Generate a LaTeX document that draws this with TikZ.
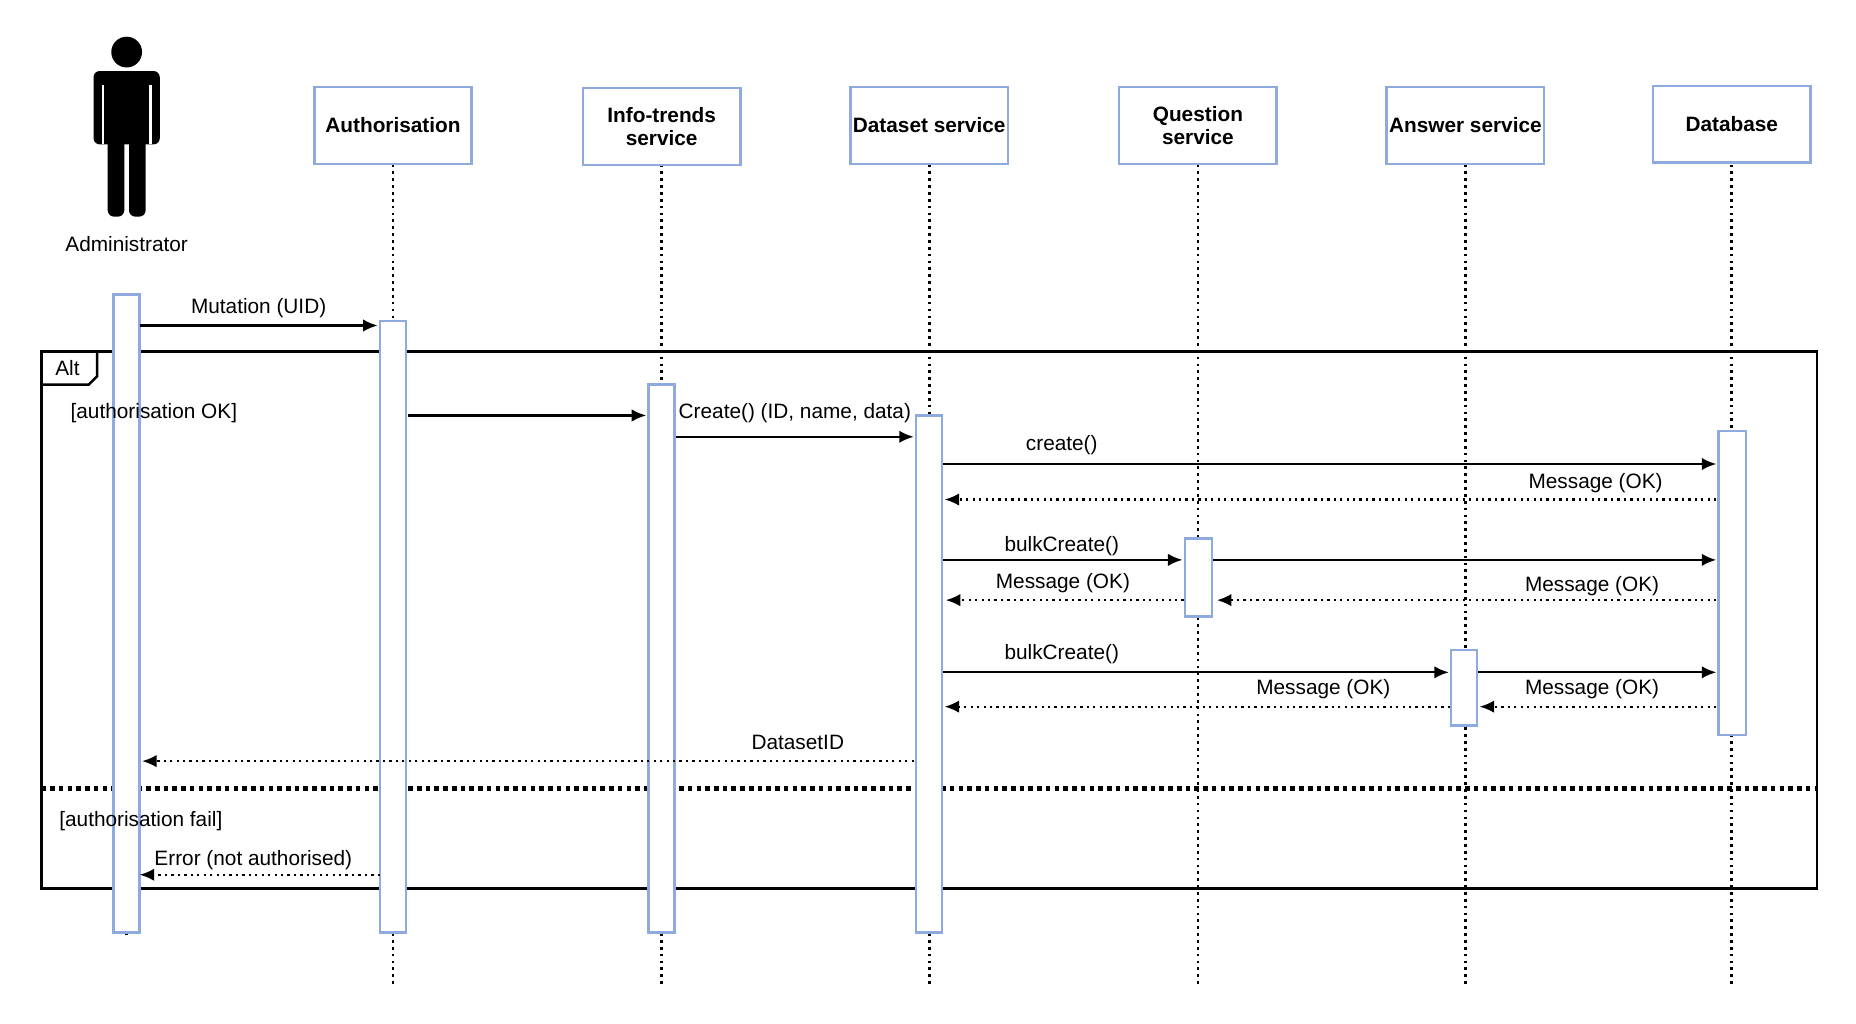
\documentclass[tikz,border=0pt]{standalone}
\usepackage{fontspec}
\setmainfont{Liberation Sans}
\usetikzlibrary{arrows.meta}
\begin{document}
\begin{tikzpicture}[x=0.02cm,y=-0.02cm,
  obj/.style={draw=cyan!45!blue!45,line width=1.2pt,minimum width=2.66cm,minimum height=1.3cm,align=center,font=\bfseries\fontsize{10}{11}\selectfont,inner sep=0pt},
  act/.style={draw=cyan!45!blue!45,line width=1.2pt,fill=white},
  life/.style={line width=1.3pt,dotted},
  msg/.style={line width=1.1pt,-{Latex[length=7pt,width=6pt]}},
  ret/.style={msg,dotted},
  lab/.style={font=\fontsize{10}{11}\selectfont,inner sep=1pt}]
\useasboundingbox (0,0) rectangle (1568,865);
\fill (107,44) circle (13);
\fill[rounded corners=3pt] (79,60) rectangle (135,122);
\fill[rounded corners=3pt] (91,110) rectangle (105,183);
\fill[rounded corners=3pt] (109,110) rectangle (123,183);
\fill[white] (86,72) rectangle (88,122);
\fill[white] (126,72) rectangle (128,122);
\node[lab] (admtxt) at (107,206) {Administrator};
\foreach \n/\x/\t/\y in {auth/332/Authorisation/106,info/559/{Info-trends\\service}/107,data/785/Dataset service/106,ques/1012/{Question\\service}/106,answ/1238/Answer service/106,db/1463/Database/105}{
  \draw[life] (\x,139) -- (\x,832);
  \node[obj,fill=white] (\n) at (\x,\y) {\t};
}
\draw[life] (107,788) -- (107,790);
\draw[line width=1.4pt] (35,297) rectangle (1535,751);
\draw[line width=1.2pt] (35,325) -- (75,325) -- (82,318) -- (82,297);
\node[lab] (alt) at (57,311) {Alt};
\draw[line width=2.2pt,dotted] (35,666) -- (1535,666);
\draw[act] (96,249) rectangle (118,788);
\draw[act] (321,271) rectangle (343,788);
\draw[act] (548,325) rectangle (570,788);
\draw[act] (774,351) rectangle (796,788);
\draw[act] (1001,455) rectangle (1024,521);
\draw[act] (1226,549) rectangle (1248,613);
\draw[act] (1452,364) rectangle (1475,621);
\node[lab] at (130,349) {[authorisation OK]};
\node[lab] at (119,694) {[authorisation fail]};
\draw[msg] (118,275) -- node[lab,above=2pt]{Mutation (UID)} (319,275);
\draw[msg] (345,351) -- (546,351);
\draw[msg] (571,369) -- node[lab,above=5pt]{Create() (ID, name, data)} (772,369);
\draw[msg] (797,392) -- (1450,392);
\node[lab] at (897,376) {create()};
\draw[ret] (1450,422) -- (798,422);
\node[lab] at (1348,408) {Message (OK)};
\draw[msg] (797,473) -- (999,473);
\node[lab] at (897,461) {bulkCreate()};
\draw[msg] (1025,473) -- (1450,473);
\draw[ret] (1000,507) -- (799,507);
\node[lab] at (898,493) {Message (OK)};
\draw[ret] (1450,507) -- (1028,507);
\node[lab] at (1345,495) {Message (OK)};
\draw[msg] (797,568) -- (1224,568);
\node[lab] at (897,553) {bulkCreate()};
\draw[msg] (1249,568) -- (1450,568);
\draw[ret] (1225,597) -- (798,597);
\node[lab] at (1118,582) {Message (OK)};
\draw[ret] (1450,597) -- (1250,597);
\node[lab] at (1345,582) {Message (OK)};
\draw[ret] (772,643) -- (120,643);
\node[lab] at (674,627) {DatasetID};
\draw[ret] (321,739) -- (118,739);
\node[lab] at (214,727) {Error (not authorised)};
\end{tikzpicture}
\end{document}
